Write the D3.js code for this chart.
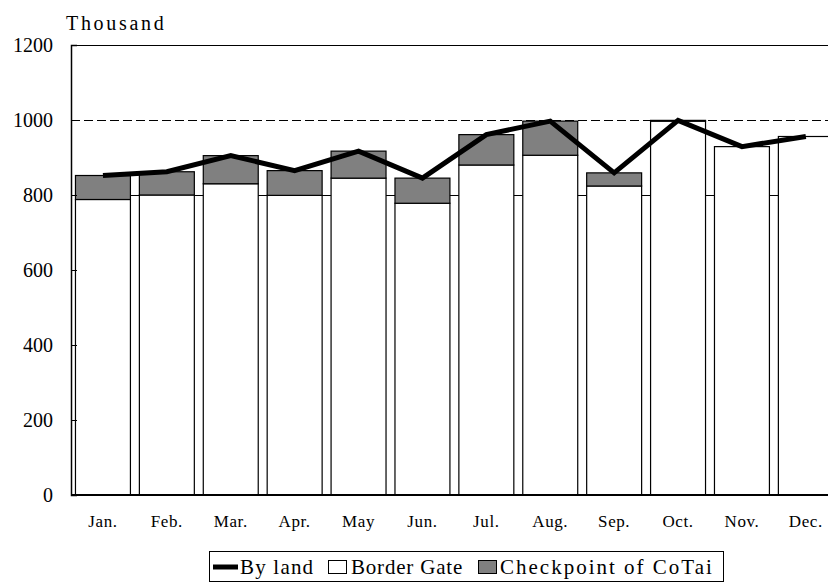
<!DOCTYPE html>
<html>
<head>
<meta charset="utf-8">
<script src="https://cdn.jsdelivr.net/npm/d3@7/dist/d3.min.js"></script>
<style>
  html, body { margin: 0; padding: 0; background: #fff; overflow: hidden; }
  svg { display: block; }
</style>
</head>
<body>
<svg id="chart" width="828" height="583"></svg>
<script>
// Monthly visitor arrivals by land (thousand)
const months = ["Jan.", "Feb.", "Mar.", "Apr.", "May", "Jun.", "Jul.", "Aug.", "Sep.", "Oct.", "Nov.", "Dec."];
const borderGate = [788, 800, 830, 799, 845, 778, 880, 906, 824, 997, 929, 956];
const cotai      = [64, 62, 75, 66, 72, 67, 81, 91, 35, 2, 0, 0];
const byLand     = [852, 862, 905, 865, 917, 845, 961, 997, 859, 999, 929, 956];
const yTicks = [0, 200, 400, 600, 800, 1000, 1200];
const seriesNames = ["By land", "Border Gate", "Checkpoint of CoTai"];

const FONT = "'Liberation Serif', 'Times New Roman', serif";

const svg = d3.select("#chart").style("font-family", FONT);
const plotLeft = 71, plotTop = 45, plotBottom = 495;
const step = 63.9;
const plotRight = plotLeft + step * months.length;

const x = d3.scaleBand().domain(months).range([plotLeft, plotRight]).paddingInner(0.14).paddingOuter(0.07);
const y = d3.scaleLinear().domain([0, 1200]).range([plotBottom, plotTop]);

// frame top edge
svg.append("line").attr("x1", plotLeft).attr("x2", plotRight).attr("y1", plotTop + 0.5).attr("y2", plotTop + 0.5)
  .attr("stroke", "#000").attr("stroke-width", 1.2);

// reference lines at 1000 (dashed) and 800
svg.append("line").attr("x1", plotLeft).attr("x2", plotRight).attr("y1", y(1000) + 0.5).attr("y2", y(1000) + 0.5)
  .attr("stroke", "#000").attr("stroke-width", 1).attr("stroke-dasharray", "9,4")
  .attr("shape-rendering", "crispEdges");
svg.append("line").attr("x1", plotLeft).attr("x2", plotRight).attr("y1", y(800) + 0.5).attr("y2", y(800) + 0.5)
  .attr("stroke", "#000").attr("stroke-width", 1).attr("shape-rendering", "crispEdges");

// stacked bars
const stackData = months.map((m, i) => ({ m, border: borderGate[i], cotai: cotai[i] }));
const stacked = d3.stack().keys(["border", "cotai"])(stackData);
const fills = { border: "#ffffff", cotai: "#808080" };

stacked.forEach(layer => {
  svg.append("g").selectAll("rect")
    .data(layer.filter(d => d[1] - d[0] > 0))
    .join("rect")
    .attr("x", d => x(d.data.m))
    .attr("width", x.bandwidth())
    .attr("y", d => y(d[1]))
    .attr("height", d => y(d[0]) - y(d[1]))
    .attr("fill", fills[layer.key])
    .attr("stroke", "#000")
    .attr("stroke-width", 1.2);
});

// y axis
const yAxis = d3.axisLeft(y).tickValues(yTicks).tickFormat(d3.format("d")).tickSize(-6).tickPadding(18);
const gy = svg.append("g").attr("transform", `translate(${plotLeft},0)`).call(yAxis)
  .attr("font-family", null).attr("font-size", null);
gy.select(".domain").attr("stroke", "#000").attr("stroke-width", 1.5);
gy.selectAll(".tick line").attr("stroke", "#000");
gy.selectAll(".tick text").style("font-family", FONT).style("font-size", "20px").attr("fill", "#000");

// x axis
const xAxis = d3.axisBottom(x).tickSize(0).tickPadding(20);
const gx = svg.append("g").attr("transform", `translate(0,${plotBottom})`).call(xAxis)
  .attr("font-family", null).attr("font-size", null);
gx.select(".domain").attr("stroke", "#000").attr("stroke-width", 2)
  .attr("d", `M${plotLeft},0H${plotRight}`);
gx.selectAll(".tick text").style("font-family", FONT).style("font-size", "17px")
  .style("letter-spacing", "0.6px").attr("fill", "#000");

// unit label
svg.append("text").attr("x", 66).attr("y", 30)
  .style("font-family", FONT).style("font-size", "20px").style("letter-spacing", "2.7px")
  .text("Thousand");

// by-land line
const line = d3.line().x((d, i) => x(months[i]) + x.bandwidth() / 2).y(d => y(d));
svg.append("path").datum(byLand).attr("d", line)
  .attr("fill", "none").attr("stroke", "#000").attr("stroke-width", 5)
  .attr("stroke-linejoin", "miter");

// legend
const lg = svg.append("g");
lg.append("rect").attr("x", 209.5).attr("y", 551.5).attr("width", 514).attr("height", 30)
  .attr("fill", "#fff").attr("stroke", "#000").attr("stroke-width", 1);
lg.append("line").attr("x1", 213).attr("x2", 238).attr("y1", 567).attr("y2", 567)
  .attr("stroke", "#000").attr("stroke-width", 5);
const legendText = (xp, s, ls) => lg.append("text").attr("x", xp).attr("y", 574)
  .style("font-family", FONT).style("font-size", "21px").style("letter-spacing", ls + "px").text(s);
legendText(240, seriesNames[0], 1.2);
lg.append("rect").attr("x", 328.5).attr("y", 560.5).attr("width", 18).attr("height", 13)
  .attr("fill", "#fff").attr("stroke", "#000").attr("stroke-width", 1);
legendText(351, seriesNames[1], 0.8);
lg.append("rect").attr("x", 478.5).attr("y", 560.5).attr("width", 18).attr("height", 13)
  .attr("fill", "#808080").attr("stroke", "#000").attr("stroke-width", 1);
legendText(500, seriesNames[2], 2.0);
</script>
</body>
</html>
